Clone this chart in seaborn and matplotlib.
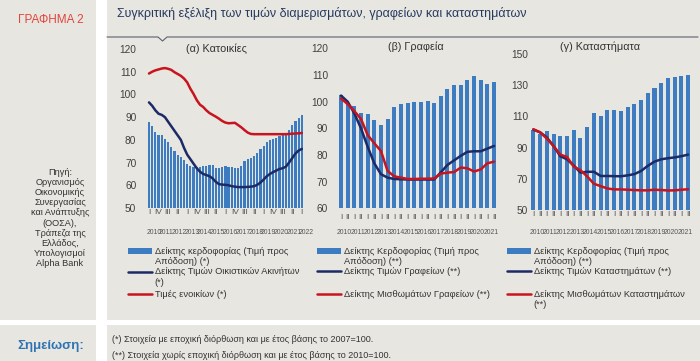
import numpy as np
import pandas as pd
import matplotlib
matplotlib.use("Agg")
import matplotlib.pyplot as plt
import matplotlib.artist as martist
import seaborn as sns
from matplotlib.patches import Rectangle
from matplotlib.lines import Line2D
from matplotlib.transforms import Affine2D

# ---------------- data ----------------
# (a) Housing, quarterly 2010Q1 - 2022Q1
bars_a = [88, 86, 83.5, 82, 82, 80.5, 79, 77, 75, 73.5, 72.5, 71, 69.5, 68.5, 68, 68,
          68, 68.5, 68.5, 69, 69, 67.5, 67.5, 68, 68.5, 68, 68, 67.5, 67.5, 68.5, 70.5, 71.5,
          72, 73, 74, 76, 77.5, 79, 80, 80.5, 81, 81.5, 82, 83, 84.5, 86.5, 88.5, 89.5, 91]
blue_a = [96.5, 95, 93, 91.5, 91, 90, 88, 86, 84, 82, 80, 76.5, 73.5, 71.5, 69.5, 67.5,
          66, 65, 64.5, 64, 63, 61.5, 60.5, 60.3, 60.2, 60, 59.6, 59.4, 59.2, 59.2, 59.2, 59.3,
          59.4, 59.6, 60.2, 61.2, 62.5, 64, 65, 65.8, 66.5, 67.2, 67.5, 68.2, 70, 72, 74, 75.3, 76]
red_a = [109.2, 110, 110.6, 111, 111.4, 111.6, 111.3, 110.8, 109.8, 109, 108.2, 107, 105.3,
         102.5, 100.2, 97.5, 95.5, 94.5, 93, 91.8, 91, 90.2, 89.3, 88.3, 87.6, 87.3, 87.4, 87.5,
         86.5, 85.5, 84.3, 83.2, 82.6, 82.5, 82.5, 82.5, 82.5, 82.5, 82.5, 82.5, 82.5, 82.5,
         82.5, 82.5, 82.6, 82.7, 82.8, 82.9, 83]
qlab_a = ['I', 'IV', 'III', 'II', 'I', 'IV', 'III', 'II', 'I', 'IV', 'III', 'II',
          'I', 'IV', 'III', 'II', 'I']
years_a = ['2010', '2011', '2012', '2013', '2014', '2015', '2016', '2017', '2018',
           '2019', '2020', '2021', '2022']

# (b) Offices, semi-annual 2010H1 - 2021H2
bars_b = [102.5, 99.4, 98.4, 95.9, 95.5, 93.1, 91.2, 93.4, 98.1, 99, 99.4, 100,
          100, 100.2, 99.6, 102, 104.6, 106.2, 106.2, 108, 109.8, 108, 106.8, 107.4]
blue_b = [102.3, 100, 95.6, 90, 83.1, 76.9, 72.8, 71.5, 71, 70.9, 70.8, 70.8,
          70.8, 70.8, 70.8, 73.5, 76.3, 78, 79.7, 81.2, 81.4, 81.4, 82.4, 83.4]
red_b = [101.2, 99.1, 96.5, 93.5, 87.5, 84.4, 81.5, 74, 72, 71.5, 71, 71,
         71.1, 71.1, 71.2, 73, 73.4, 73.6, 75.3, 75, 73.8, 74.6, 76.9, 77.5]

# (c) Retail, semi-annual 2010H1 - 2021H2
bars_c = [101.5, 98.5, 100.5, 99, 97.5, 97.5, 101, 96, 103.5, 112, 110.5, 114,
          114, 113.5, 116, 118, 120.5, 125, 128.5, 131.5, 134.5, 135.5, 136, 136.5]
blue_c = [101.5, 99.8, 96.5, 91, 84.5, 82.5, 78.5, 74, 74.5, 74.5, 71.8, 71.8,
          71.7, 71.6, 72.2, 73, 75, 78.3, 81, 82.5, 83.2, 83.7, 84.5, 85.5]
red_c = [101.8, 99.8, 95.8, 91, 85.5, 84, 77.8, 75.5, 71.5, 66.8, 65.3, 63.8,
         63.2, 63.2, 63, 62.8, 62.6, 62.6, 63, 62.8, 62.5, 62.6, 63, 63.3]

hlab_bc = ['I', 'II'] * 12
years_bc = ['2010', '2011', '2012', '2013', '2014', '2015', '2016', '2017', '2018',
            '2019', '2020', '2021']

titles = ['(α) Κατοικίες', '(β) Γραφεία', '(γ) Καταστήματα']
leg_a = ['Δείκτης κερδοφορίας (Τιμή προς\nΑπόδοση) (*)',
         'Δείκτης Τιμών Οικιστικών Ακινήτων\n(*)',
         'Τιμές ενοικίων (*)']
leg_b = ['Δείκτης Κερδοφορίας (Τιμή προς\nΑπόδοση) (**)',
         'Δείκτης Τιμών Γραφείων (**)',
         'Δείκτης Μισθωμάτων Γραφείων (**)']
leg_c = ['Δείκτης Κερδοφορίας (Τιμή προς\nΑπόδοση) (**)',
         'Δείκτης Τιμών Καταστημάτων (**)',
         'Δείκτης Μισθωμάτων Καταστημάτων\n(**)']

# ---------------- style ----------------
BG = '#e8e6e1'
BAR = '#3d7cc0'
NAVY = '#1c2b66'
RED = '#c8141e'
TXT = '#333333'

sns.set_style("white")
plt.rcParams['font.family'] = ['Liberation Sans', 'DejaVu Sans']
NARROW = ['Liberation Sans Narrow', 'Liberation Sans', 'DejaVu Sans']

W, H = 700, 361
fig = plt.figure(figsize=(7, 3.61), dpi=100)
fig.patch.set_facecolor(BG)


def fx(px):
    return px / W


def fy(py):
    return 1 - py / H


def make_axes(x0, x1, ytop, ybot):
    ax = fig.add_axes([fx(x0), fy(ybot), (x1 - x0) / W, (ybot - ytop) / H])
    ax.set_facecolor('none')
    return ax


# separators (decoration)
fig.add_artist(Rectangle((fx(96), 0), 11 / W, 1, transform=fig.transFigure,
                         facecolor='white', edgecolor='none', zorder=0))
fig.add_artist(Rectangle((0, fy(325)), 1, 5 / H, transform=fig.transFigure,
                         facecolor='white', edgecolor='none', zorder=0))
fig.add_artist(Line2D([fx(107), fx(158), fx(162.5), fx(167), fx(698)],
                      [fy(37), fy(37), fy(41), fy(37), fy(37)],
                      transform=fig.transFigure, color='#5a6070', lw=0.8))

# header / side texts
fig.text(fx(51), fy(20), 'ΓΡΑΦΗΜΑ 2', color='#e0453c', fontsize=8.5,
         family=NARROW, ha='center', va='center')
fig.text(fx(117), fy(13), 'Συγκριτική εξέλιξη των τιμών διαμερισμάτων, γραφείων και καταστημάτων',
         color='#263a5e', fontsize=9, family=NARROW, ha='left', va='center')
fig.text(fx(60), fy(218),
         'Πηγή:\nΟργανισμός\nΟικονομικής\nΣυνεργασίας\nκαι Ανάπτυξης\n(ΟΟΣΑ),\nΤράπεζα της\nΕλλάδος,\nΥπολογισμοί\nAlpha Bank',
         color=TXT, fontsize=6.6, family=NARROW, ha='center', va='center', linespacing=1.16)
fig.text(fx(51), fy(346), 'Σημείωση:', color='#2e74b5', fontsize=9.5, fontweight='bold',
         ha='center', va='center')
fig.text(fx(112), fy(340), '(*) Στοιχεία με εποχική διόρθωση και με έτος βάσης το 2007=100.',
         color=TXT, fontsize=6.5, family=NARROW, ha='left', va='center')
fig.text(fx(112), fy(355), '(**) Στοιχεία χωρίς εποχική διόρθωση και με έτος βάσης το 2010=100.',
         color=TXT, fontsize=6.5, family=NARROW, ha='left', va='center')

LEG_FS = 6.7
LS = 1.15


def panel(ax, bars, blue, red, ylim, yticks, bar_w, q_pos, q_lab, yr_pos, yr_lab,
          ypad, qpad, yrpad):
    n = len(bars)
    df = pd.DataFrame({'x': np.arange(n), 'bars': bars, 'blue': blue, 'red': red})
    sns.barplot(data=df, x='x', y='bars', color=BAR, width=bar_w, saturation=1,
                linewidth=0, errorbar=None, ax=ax)
    sns.lineplot(data=df, x='x', y='blue', color=NAVY, lw=1.8, ax=ax)
    sns.lineplot(data=df, x='x', y='red', color=RED, lw=1.8, ax=ax)
    ax.set_xlim(-0.5, n - 0.5)
    ax.set_ylim(*ylim)
    ax.set_yticks(yticks, [str(t) for t in yticks])
    ax.set_xticks(q_pos, q_lab, fontsize=6, family=NARROW, color='#555555')
    ax.set_xticks(yr_pos, yr_lab, minor=True, fontsize=4.9, family=NARROW, color='#555555')
    ax.tick_params(axis='y', length=0, pad=ypad, labelsize=7.3, labelcolor='#404040')
    ax.tick_params(axis='x', which='major', length=0, pad=qpad)
    ax.tick_params(axis='x', which='minor', length=0, pad=yrpad)
    ax.set_xlabel('')
    ax.set_ylabel('')
    for s in ax.spines.values():
        s.set_visible(False)


def entry(handle, label, x_px, y_px, hh=0.7):
    nlines = label.count('\n') + 1
    leg = fig.legend([handle], [label], loc='upper left',
                     bbox_to_anchor=(fx(x_px), fy(y_px)), frameon=False,
                     borderpad=0, borderaxespad=0, handlelength=2.6, handleheight=hh,
                     handletextpad=0.25, fontsize=LEG_FS, labelspacing=0, labelcolor=TXT)
    for t in leg.get_texts():
        t.set_linespacing(LS)
    dy = 0.5 * (nlines - 1) * LS * LEG_FS
    for h in leg.legend_handles:
        base = martist.Artist.get_transform(h)
        h.set_transform(Affine2D().translate(0, dy) + base)
    return leg


# (a)
ax_a = make_axes(147.4, 306.6, 49, 208)
na = len(bars_a)
panel(ax_a, bars_a, blue_a, red_a, (50, 120), list(range(50, 121, 10)), 0.7,
      list(range(0, na, 3)), qlab_a, [4 * i + 1.5 for i in range(len(years_a))], years_a,
      ypad=8, qpad=1, yrpad=15)

# (b)
ax_b = make_axes(337.7, 497.4, 48.4, 208.3)
nb = len(bars_b)
panel(ax_b, bars_b, blue_b, red_b, (60, 120), list(range(60, 121, 10)), 0.6,
      list(range(nb)), hlab_bc, [2 * i + 0.5 for i in range(len(years_bc))], years_bc,
      ypad=7, qpad=4, yrpad=15)

# (c)
ax_c = make_axes(530, 691.5, 54, 210)
nc = len(bars_c)
panel(ax_c, bars_c, blue_c, red_c, (50, 150), list(range(50, 151, 20)), 0.6,
      list(range(nc)), hlab_bc, [2 * i + 0.5 for i in range(len(years_bc))], years_bc,
      ypad=1.5, qpad=0.5, yrpad=14)

# panel titles
for tx, x_px, y_px in zip(titles, [216, 416, 600], [49, 47, 47]):
    fig.text(fx(x_px), fy(y_px), tx, fontsize=7.8, color='#333333', ha='center', va='center')

# legends
for ax, labels, hx in [(ax_a, leg_a, 128), (ax_b, leg_b, 317), (ax_c, leg_c, 507)]:
    bar_h = ax.patches[0]
    entry(bar_h, labels[0], hx, 246.5, hh=0.55)
    entry(ax.lines[0], labels[1], hx, 267.5)
    entry(ax.lines[1], labels[2], hx, 290)

fig.savefig('out.png', dpi=100, facecolor=BG)
